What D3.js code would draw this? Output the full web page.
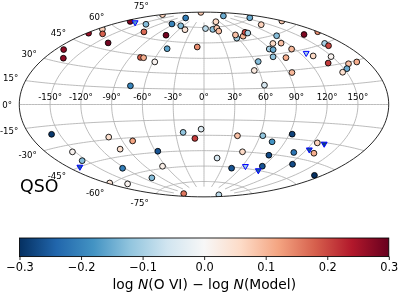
<!DOCTYPE html>
<html>
<head>
<meta charset="utf-8">
<script src="https://cdn.jsdelivr.net/npm/d3@7"></script>
<style>
html, body { margin: 0; background: #fff; }
text { font-family: "DejaVu Sans", sans-serif; fill: #000; }
#chart { filter: blur(0.3px); }
</style>
</head>
<body>
<svg id="chart"></svg>
<script>
// detections: galactic longitude, latitude (deg), residual in dex
const lons = [-172,-161,-178,-175,-162,-136,-173,-141,-116,-179,-96,-67,-98,-46,-72,-52,-10,-78,-74,-58,-74,-154,126,160,48,138,179,4,22,34,58,34,61,72,84,87,123,159,180,162,162,102,113,116,89,93,85,99,131,149,139,64,159,169,55,94,153,146,61,-158,-153,-155,-102,-79,-99,-57,-22,-10,-3,-123,-65,-106,-177,-161,-136,140,18,36,63,76,93,48,83,109,125,132,46,89,124,172];
const lats = [38,33,51,56,54,50,66,69,64,77,75,75,82,72,65,53,56,43,43,40,17,89,83,75,80,69,65,74,73,74,63,71,66,64,67,66,59,54,52,45,43,54,53,47,50,49,43,41,39,36,32,40,29,29,32,28,26,24,18,-21,-35,-42,-28,-33,-39,-44,-27,-33,-24,-54,-58,-66,-59,-64,-83,-85,-52,-30,-29,-34,-26,-45,-46,-41,-31,-39,-61,-56,-50,-52];
const vals = [0.27,0.27,0.26,0.07,0.18,0.29,0.28,-0.13,0.17,0.07,-0.2,-0.13,-0.21,0.04,0.29,-0.16,0.14,0.18,0.11,0.01,-0.2,0.08,-0.15,-0.15,0.06,0.07,0.08,-0.08,-0.12,0.08,-0.1,0.09,0.09,0.1,0.2,-0.1,-0.13,0.28,0.14,-0.1,0.2,0.06,0.09,0.1,-0.1,-0.15,-0.12,0.11,0.06,0.01,0.21,-0.13,0.09,0.11,0.03,0.1,-0.15,0.05,-0.05,-0.29,0.01,-0.13,0.05,0.12,0.05,-0.26,-0.12,0.21,-0.04,-0.21,0.02,-0.13,0.04,0.01,0.16,-0.08,-0.05,0.09,-0.12,-0.18,-0.28,0.06,-0.27,-0.22,0.07,0.11,-0.26,-0.26,-0.27,-0.3];

// upper limits
const limLons = [-163,127,-168,133,123,65,91];
const limLats = [67,42,-45,-31,-37,-58,-60];
const limVals = [-0.17,-0.1,-0.25,-0.28,-0.26,-0.1,-0.25];

const lonTicks = [-150,-120,-90,-60,-30,0,30,60,90,120,150];
const latTicks = [-75,-60,-45,-30,-15,0,15,30,45,60,75];
const cbarTicks = [-0.3,-0.2,-0.1,0,0.1,0.2,0.3];
const rdbu = ["#053061","#2166ac","#4393c3","#92c5de","#d1e5f0","#f7f7f7","#fddbc7","#f4a582","#d6604d","#b2182b","#67001f"];

const width = 399, height = 298;
const svg = d3.select("#chart").attr("width", width).attr("height", height).style("display", "block");

// Aitoff
function aitoffRaw(lambda, phi) {
    const c = Math.cos(phi), h = lambda / 2;
    const alpha = Math.acos(c * Math.cos(h));
    const sinc = alpha < 1e-6 ? 1 : Math.sin(alpha) / alpha;
    return [2 * c * Math.sin(h) / sinc, Math.sin(phi) / sinc];
}
const projection = d3.geoProjection(aitoffRaw)
    .scale(58.8)
    .translate([204, 104.5])
    .precision(0.1);

const color = d3.scaleLinear()
    .domain(rdbu.map((_, i) => -0.3 + i * 0.06))
    .range(rdbu);

const line = d3.line();
const edgePts = d3.range(-90, 90.5, 2).map(d => projection([-180, d]))
    .concat(d3.range(90, -90.5, -2).map(d => projection([180, d])));

svg.append("clipPath").attr("id", "map-clip")
    .append("path").attr("d", line(edgePts) + "Z");

// 経緯線 (matplotlib caps meridians at 80 deg)
const grid = svg.append("g").attr("clip-path", "url(#map-clip)")
    .attr("fill", "none").attr("stroke", "#b0b0b0").attr("stroke-width", 0.85);
lonTicks.forEach(lon => {
    grid.append("path").attr("d", line(d3.range(-80, 80.5, 2).map(d => projection([lon, d]))));
});
latTicks.forEach(lat => {
    grid.append("path").attr("d", line(d3.range(-180, 180.5, 3).map(d => projection([d, lat]))));
});

// tick labels
svg.append("g").selectAll("text").data(lonTicks).join("text")
    .attr("x", d => projection([d, 0])[0])
    .attr("y", 99.6)
    .attr("text-anchor", "middle")
    .attr("font-size", 8.6)
    .text(d => d + "°");
svg.append("g").selectAll("text").data(latTicks).join("text")
    .attr("x", d => projection([-180, d])[0] - 7.3)
    .attr("y", d => 104.5 + 1.1 * (projection([-180, d])[1] - 104.5) + 3.1)
    .attr("text-anchor", "end")
    .attr("font-size", 8.6)
    .text(d => d + "°");

const marks = svg.append("g").attr("clip-path", "url(#map-clip)");
marks.selectAll("circle").data(d3.range(lons.length)).join("circle")
    .attr("cx", i => projection([lons[i], lats[i]])[0])
    .attr("cy", i => projection([lons[i], lats[i]])[1])
    .attr("r", 2.9)
    .attr("fill", i => color(vals[i]))
    .attr("stroke", "#000")
    .attr("stroke-width", 0.85);

const tri = d3.symbol().type(d3.symbolTriangle).size(15);
marks.selectAll("path.lim").data(d3.range(limLons.length)).join("path")
    .attr("class", "lim")
    .attr("d", tri)
    .attr("transform", i => {
        const p = projection([limLons[i], limLats[i]]);
        return `translate(${p[0]},${p[1]}) rotate(180)`;
    })
    .attr("fill", i => color(limVals[i]))
    .attr("stroke", "#0000ff")
    .attr("stroke-width", 1);

// map outline
svg.append("path").attr("d", line(edgePts) + "Z")
    .attr("fill", "none").attr("stroke", "#000").attr("stroke-width", 0.85);

svg.append("text").attr("x", 20).attr("y", 191.5).attr("font-size", 17.4).text("QSO");

// colorbar
const cbarX = d3.scaleLinear().domain([-0.3, 0.3]).range([19.5, 388.8]);
const cbarTop = 238, cbarH = 18.6;
const grad = svg.append("linearGradient").attr("id", "cbar-grad");
grad.selectAll("stop").data(color.domain()).join("stop")
    .attr("offset", d => (d + 0.3) / 0.6)
    .attr("stop-color", d => color(d));
svg.append("rect")
    .attr("x", cbarX.range()[0]).attr("y", cbarTop)
    .attr("width", cbarX.range()[1] - cbarX.range()[0]).attr("height", cbarH)
    .attr("fill", "url(#cbar-grad)")
    .attr("stroke", "#000").attr("stroke-width", 0.85);

const cbarAxis = svg.append("g")
    .attr("transform", `translate(0,${cbarTop + cbarH})`)
    .call(d3.axisBottom(cbarX).tickValues(cbarTicks).tickFormat(d3.format(".1f")).tickSize(3.4).tickPadding(2.6));
cbarAxis.select(".domain").remove();
cbarAxis.selectAll("line").attr("stroke", "#000").attr("stroke-width", 0.85);
cbarAxis.selectAll("text").attr("font-size", 11.4).attr("font-family", "DejaVu Sans");

const label = svg.append("text").attr("x", 204.3).attr("y", 288.5)
    .attr("text-anchor", "middle").attr("font-size", 13.8);
label.append("tspan").text("log ");
label.append("tspan").attr("font-style", "italic").text("N");
label.append("tspan").text("(O VI) − log ");
label.append("tspan").attr("font-style", "italic").text("N");
label.append("tspan").text("(Model)");
</script>
</body>
</html>
